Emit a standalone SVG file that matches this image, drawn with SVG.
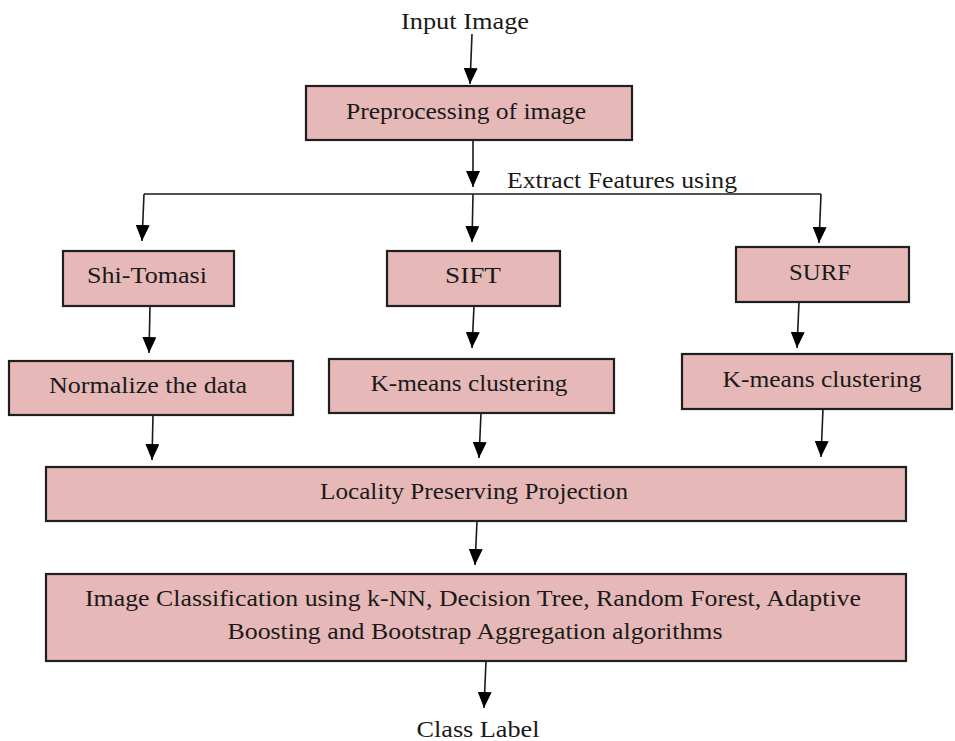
<svg xmlns="http://www.w3.org/2000/svg" width="955" height="741" viewBox="0 0 955 741">
<style>
.box{fill:#e6b8b7;stroke:#1f1f1f;stroke-width:2.2}
.t{font-family:"Liberation Serif","Times New Roman",serif;font-size:24px;fill:#1a1a1a;text-anchor:middle}
.c{stroke:#1a1a1a;stroke-width:1.6;fill:none}
.a{marker-end:url(#ah)}
</style>
<defs>
<marker id="ah" markerUnits="userSpaceOnUse" markerWidth="16" markerHeight="14" refX="16" refY="7" orient="auto" viewBox="0 0 16 14">
<path d="M0,0 L16,7 L0,14 Z" fill="#000"/>
</marker>
</defs>
<rect width="955" height="741" fill="#fff"/>
<g id="connectors">
<path class="c a" d="M472,34 L470,84"/>
<path class="c a" d="M473,140 L473,187"/>
<path class="c" d="M144,194 L821,194"/>
<path class="c a" d="M144,194 L142,241"/>
<path class="c a" d="M473,194 L472,242"/>
<path class="c a" d="M821,194 L819,243"/>
<path class="c a" d="M150,306 L149,353"/>
<path class="c a" d="M474,306 L472,348"/>
<path class="c a" d="M799,302 L797,348"/>
<path class="c a" d="M153,415 L152,460"/>
<path class="c a" d="M481,413 L479,458"/>
<path class="c a" d="M823,409 L821,457"/>
<path class="c a" d="M477,521 L475,565"/>
<path class="c a" d="M486,661 L484,708"/>
</g>
<g id="input-label"><text class="t" x="465" y="29" textLength="128" lengthAdjust="spacingAndGlyphs">Input Image</text></g>
<g id="preprocessing"><rect class="box" x="306" y="86" width="326" height="54"/><text class="t" x="466" y="119" textLength="240" lengthAdjust="spacingAndGlyphs">Preprocessing of image</text></g>
<g id="extract-label"><text class="t" x="622" y="188" textLength="230" lengthAdjust="spacingAndGlyphs">Extract Features using</text></g>
<g id="shi-tomasi"><rect class="box" x="63" y="251" width="171" height="55"/><text class="t" x="147" y="283" textLength="120" lengthAdjust="spacingAndGlyphs">Shi-Tomasi</text></g>
<g id="sift"><rect class="box" x="387" y="251" width="173" height="55"/><text class="t" x="473" y="283" textLength="56" lengthAdjust="spacingAndGlyphs">SIFT</text></g>
<g id="surf"><rect class="box" x="736" y="247" width="173" height="55"/><text class="t" x="820" y="280" textLength="62" lengthAdjust="spacingAndGlyphs">SURF</text></g>
<g id="normalize"><rect class="box" x="9" y="361" width="284" height="54"/><text class="t" x="148" y="393" textLength="198" lengthAdjust="spacingAndGlyphs">Normalize the data</text></g>
<g id="kmeans-sift"><rect class="box" x="329" y="359" width="285" height="54"/><text class="t" x="469" y="391" textLength="197" lengthAdjust="spacingAndGlyphs">K-means clustering</text></g>
<g id="kmeans-surf"><rect class="box" x="682" y="354" width="270" height="55"/><text class="t" x="822" y="387" textLength="199" lengthAdjust="spacingAndGlyphs">K-means clustering</text></g>
<g id="lpp"><rect class="box" x="46" y="467" width="860" height="54"/><text class="t" x="474" y="499" textLength="308" lengthAdjust="spacingAndGlyphs">Locality Preserving Projection</text></g>
<g id="classification"><rect class="box" x="46" y="574" width="860" height="87"/><text class="t" x="473" y="606" textLength="776" lengthAdjust="spacingAndGlyphs">Image Classification using k-NN, Decision Tree, Random Forest, Adaptive</text><text class="t" x="475" y="639" textLength="495" lengthAdjust="spacingAndGlyphs">Boosting and Bootstrap Aggregation algorithms</text></g>
<g id="class-label"><text class="t" x="478" y="737" textLength="123" lengthAdjust="spacingAndGlyphs">Class Label</text></g>
</svg>
